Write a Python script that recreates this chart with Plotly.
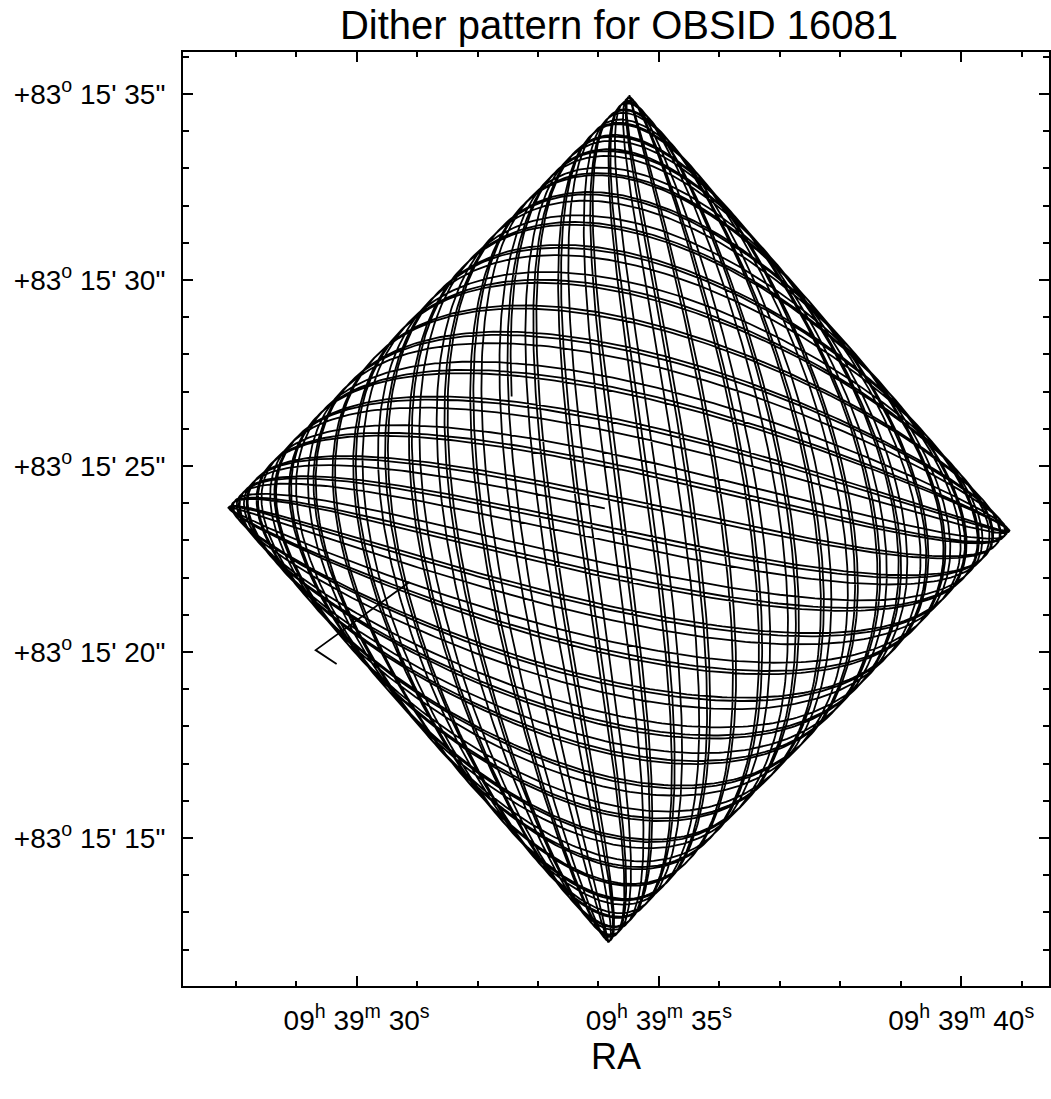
import numpy as np
import plotly.graph_objects as go

# Pointing and nominal dither parameters for OBSID 16081
ra_center_sec = 34.34          # seconds of RA past 09h 39m
dec_center_arcsec = 23.57      # arcsec past +83d 15'
dec_deg = 83.2587
dither_amp = 8.05              # arcsec, Y and Z
period_y = 1000.0              # s
period_z = 707.1               # s
phase_y = 0.0
phase_z = 0.6
roll_deg = 43.45
exposure_s = 42000.0
step_s = 2.0

# Short settling segment at the start of the track (RA s, Dec arcsec)
settle_ra = [29.670, 29.323, 30.875]
settle_dec = [19.68, 20.05, 21.88]

# Axis tick positions and labels
x_tickvals = [30, 35, 40]
x_ticktext = ["09<sup>h</sup> 39<sup>m</sup> 30<sup>s</sup>",
              "09<sup>h</sup> 39<sup>m</sup> 35<sup>s</sup>",
              "09<sup>h</sup> 39<sup>m</sup> 40<sup>s</sup>"]
y_tickvals = [15, 20, 25, 30, 35]
y_ticktext = ["+83<sup>o</sup> 15' 15\"", "+83<sup>o</sup> 15' 20\"",
              "+83<sup>o</sup> 15' 25\"", "+83<sup>o</sup> 15' 30\"",
              "+83<sup>o</sup> 15' 35\""]

# Dither track in the instrument Y/Z frame, rotated onto the sky
t = np.arange(0.0, exposure_s, step_s)
dy = dither_amp * np.sin(2 * np.pi * t / period_y + phase_y)
dz = dither_amp * np.sin(2 * np.pi * t / period_z + phase_z)
th = np.radians(roll_deg)
u = np.cos(th) * dy - np.sin(th) * dz
v = np.sin(th) * dy + np.cos(th) * dz
sec_per_arcsec = 1.0 / (15.0 * np.cos(np.radians(dec_deg)))
ra_track = ra_center_sec + u * sec_per_arcsec
dec_track = dec_center_arcsec + v

line_style = dict(color="black", width=1.8)

fig = go.Figure()
fig.add_trace(go.Scatter(x=ra_track, y=dec_track, mode="lines", line=line_style,
                         hoverinfo="skip", showlegend=False))
fig.add_trace(go.Scatter(x=settle_ra, y=settle_dec, mode="lines", line=line_style,
                         hoverinfo="skip", showlegend=False))

font = "Liberation Sans, Arial, Helvetica, sans-serif"

fig.update_layout(
    width=1051, height=1099,
    margin=dict(l=183, r=0, t=52, b=113),
    paper_bgcolor="white", plot_bgcolor="white",
    font=dict(family=font, color="black", size=28),
    title=dict(text="Dither pattern for OBSID 16081", x=0.589, xanchor="center",
               y=0.99, yanchor="top", font=dict(size=40, family=font)),
)

fig.update_xaxes(
    range=[27.129, 41.452], showgrid=False, zeroline=False,
    showline=True, linecolor="black", linewidth=2, mirror="ticks",
    ticks="inside", ticklen=10, tickwidth=2, tickcolor="black",
    tickvals=x_tickvals, ticktext=x_ticktext, tickfont=dict(size=28),
    ticklabelstandoff=8,
    minor=dict(dtick=1, tick0=0, ticks="inside", ticklen=5, tickwidth=2,
               tickcolor="black", showgrid=False),
    title=dict(text="RA", font=dict(size=36), standoff=4),
)
fig.update_yaxes(
    range=[11.02, 36.13], showgrid=False, zeroline=False,
    showline=True, linecolor="black", linewidth=2, mirror="ticks",
    ticks="inside", ticklen=10, tickwidth=2, tickcolor="black",
    tickvals=y_tickvals, ticktext=y_ticktext, tickfont=dict(size=28),
    minor=dict(dtick=1, tick0=0, ticks="inside", ticklen=6, tickwidth=2,
               tickcolor="black", showgrid=False),
    ticklabelstandoff=10,
)

fig.write_html("out.html")
